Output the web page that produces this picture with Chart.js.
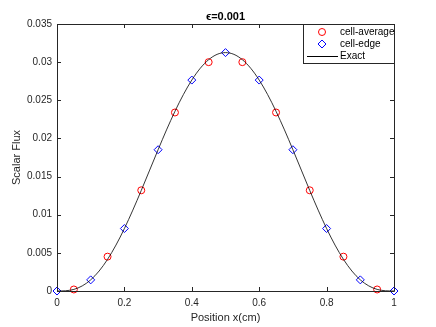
<!DOCTYPE html>
<html>
<head>
<meta charset="utf-8">
<script src="https://cdn.jsdelivr.net/npm/chart.js@4"></script>
<style>
  html, body { margin: 0; padding: 0; background: #fff; }
  #wrap { width: 436px; height: 327px; }
</style>
</head>
<body>
<div id="wrap"><canvas id="myChart" width="436" height="327"></canvas></div>
<script>
// values
const titleText = "\u03f5=0.001";
const xTitle = "Position x(cm)";
const yTitle = "Scalar Flux";

const avgX = [0.05, 0.15, 0.25, 0.35, 0.45, 0.55, 0.65, 0.75, 0.85, 0.95];
const avgY = [0.0002, 0.0045, 0.0132, 0.0234, 0.0300, 0.0300, 0.0234, 0.0132, 0.0045, 0.0002];

const edgeX = [0, 0.1, 0.2, 0.3, 0.4, 0.5, 0.6, 0.7, 0.8, 0.9, 1];
const edgeY = [0, 0.00146, 0.00819, 0.01852, 0.02765, 0.03125, 0.02765, 0.01852, 0.00819, 0.00146, 0];

const exactX = [0, 0.025, 0.05, 0.075, 0.1, 0.125, 0.15, 0.175, 0.2, 0.225, 0.25, 0.275, 0.3, 0.325, 0.35, 0.375, 0.4, 0.425, 0.45, 0.475, 0.5,
  0.525, 0.55, 0.575, 0.6, 0.625, 0.65, 0.675, 0.7, 0.725, 0.75, 0.775, 0.8, 0.825, 0.85, 0.875, 0.9, 0.925, 0.95, 0.975, 1];
const exactY = [0, 0.00003, 0.00021, 0.00067, 0.00146, 0.00262, 0.00415, 0.00602, 0.00819, 0.01060, 0.01318, 0.01585, 0.01852, 0.02112, 0.02355, 0.02575, 0.02765, 0.02919, 0.03032, 0.03102, 0.03125,
  0.03102, 0.03032, 0.02919, 0.02765, 0.02575, 0.02355, 0.02112, 0.01852, 0.01585, 0.01318, 0.01060, 0.00819, 0.00602, 0.00415, 0.00262, 0.00146, 0.00067, 0.00021, 0.00003, 0];

const xTicks = [0, 0.2, 0.4, 0.6, 0.8, 1];
const yTicks = [0, 0.005, 0.01, 0.015, 0.02, 0.025, 0.03, 0.035];

const axisColor = "#262626";
const fontFam = "'Liberation Sans', Arial, Helvetica, sans-serif";

function pts(xs, ys) {
  return xs.map((x, i) => ({ x: x, y: ys[i] }));
}

// box, inward ticks, title and legend drawn the MATLAB way
const matlabAxes = {
  id: "matlabAxes",
  afterDatasetsDraw(chart) {
    const ctx = chart.ctx;
    const a = chart.chartArea;
    const xs = chart.scales.x, ys = chart.scales.y;
    ctx.save();
    ctx.strokeStyle = axisColor;
    ctx.lineWidth = 1;
    ctx.beginPath();
    ctx.rect(Math.round(a.left) + 0.5, Math.round(a.top) + 0.5, Math.round(a.right - a.left), Math.round(a.bottom - a.top));
    ctx.stroke();
    const tl = 4;
    ctx.beginPath();
    xTicks.forEach(v => {
      const px = Math.round(xs.getPixelForValue(v)) + 0.5;
      ctx.moveTo(px, a.bottom); ctx.lineTo(px, a.bottom - tl);
      ctx.moveTo(px, a.top); ctx.lineTo(px, a.top + tl);
    });
    yTicks.forEach(v => {
      const py = Math.round(ys.getPixelForValue(v)) + 0.5;
      ctx.moveTo(a.left, py); ctx.lineTo(a.left + tl, py);
      ctx.moveTo(a.right, py); ctx.lineTo(a.right - tl, py);
    });
    ctx.stroke();

    // title
    ctx.fillStyle = "#000";
    ctx.font = "bold 11px " + fontFam;
    ctx.textAlign = "center";
    ctx.textBaseline = "middle";
    ctx.fillText(titleText, (a.left + a.right) / 2, 17);

    // legend
    const lw = 91, lh = 39;
    const lx = Math.round(a.right) - lw, ly = Math.round(a.top);
    ctx.fillStyle = "#fff";
    ctx.fillRect(lx + 0.5, ly + 0.5, lw, lh);
    ctx.strokeStyle = axisColor;
    ctx.strokeRect(lx + 0.5, ly + 0.5, lw, lh);
    ctx.font = "10px " + fontFam;
    ctx.textAlign = "left";
    const rows = [ly + 8, ly + 20, ly + 32];
    chart.data.datasets.forEach((ds, i) => {
      const y = rows[i];
      ctx.strokeStyle = ds.borderColor;
      ctx.lineWidth = 1;
      if (ds.showLine) {
        ctx.beginPath();
        ctx.moveTo(lx + 4, y + 0.5); ctx.lineTo(lx + 35, y + 0.5);
        ctx.stroke();
      } else {
        ctx.fillStyle = "rgba(0,0,0,0)";
        Chart.helpers.drawPoint(ctx, {
          pointStyle: ds.pointStyle, radius: ds.pointRadius, borderWidth: 1
        }, lx + 19, y);
      }
      ctx.fillStyle = "#000";
      ctx.fillText(ds.label, lx + 37, y + 0.5);
    });
    ctx.restore();
  }
};

const ctx = document.getElementById("myChart").getContext("2d");
const chart = new Chart(ctx, {
  type: "scatter",
  data: {
    datasets: [
      {
        label: "cell-average",
        data: pts(avgX, avgY),
        pointStyle: "circle",
        pointRadius: 3.5,
        pointBorderWidth: 1,
        borderColor: "#ff0000",
        backgroundColor: "rgba(0,0,0,0)",
        showLine: false,
        clip: false,
        order: 1
      },
      {
        label: "cell-edge",
        data: pts(edgeX, edgeY),
        pointStyle: "rectRot",
        pointRadius: 4,
        pointBorderWidth: 1,
        borderColor: "#0000ff",
        backgroundColor: "rgba(0,0,0,0)",
        showLine: false,
        clip: false,
        order: 2
      },
      {
        label: "Exact",
        data: pts(exactX, exactY),
        showLine: true,
        pointRadius: 0,
        borderColor: "#000000",
        borderWidth: 0.8,
        cubicInterpolationMode: "monotone",
        order: 0
      }
    ]
  },
  options: {
    responsive: false,
    animation: false,
    layout: { padding: { top: 24, right: 42, left: 0, bottom: 0 } },
    plugins: {
      legend: { display: false },
      title: { display: false },
      tooltip: { enabled: false }
    },
    scales: {
      x: {
        type: "linear",
        min: 0, max: 1,
        afterBuildTicks: s => { s.ticks = xTicks.map(v => ({ value: v })); },
        afterFit: s => { s.height = 36; },
        grid: { display: false, drawTicks: false },
        border: { display: false },
        ticks: {
          padding: 6,
          color: axisColor,
          font: { family: fontFam, size: 10 },
          maxRotation: 0,
          callback: v => String(+v.toFixed(3))
        },
        title: {
          display: true, text: xTitle, color: axisColor,
          font: { family: fontFam, size: 11 },
          padding: { top: 0, bottom: 2 }
        }
      },
      y: {
        type: "linear",
        min: 0, max: 0.035,
        afterBuildTicks: s => { s.ticks = yTicks.map(v => ({ value: v })); },
        afterFit: s => { s.width = 57; },
        grid: { display: false, drawTicks: false },
        border: { display: false },
        ticks: {
          padding: 5,
          color: axisColor,
          font: { family: fontFam, size: 10 },
          callback: v => String(+v.toFixed(3))
        },
        title: {
          display: true, text: yTitle, color: axisColor,
          font: { family: fontFam, size: 11 },
          padding: { top: 10, bottom: 0 }
        }
      }
    }
  },
  plugins: [matlabAxes]
});
</script>
</body>
</html>
